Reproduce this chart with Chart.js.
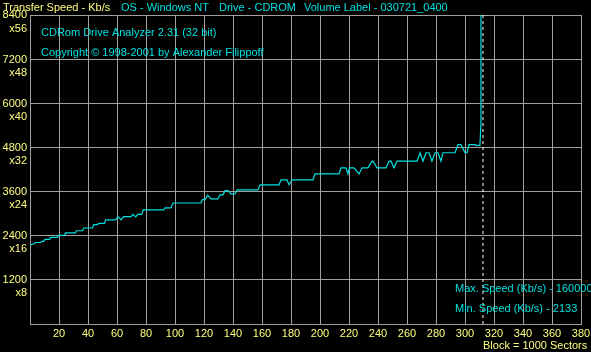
<!DOCTYPE html>
<html>
<head>
<meta charset="utf-8">
<script src="https://cdn.jsdelivr.net/npm/chart.js@4.4.1/dist/chart.umd.min.js"></script>
<style>
  html, body { margin: 0; padding: 0; background: #000; }
  #chartContainer { width: 591px; height: 352px; }
</style>
</head>
<body>
<div id="chartContainer"><canvas id="cdChart" width="591" height="352"></canvas></div>
<script>
// block number (x 1000 sectors) and transfer speed (Kb/s)
const blocks = [0, 2.5, 3.8, 7.4, 8, 9.6, 10.3, 13.6, 14.3, 19, 19.7, 23.8, 24.5, 31.4, 32, 36.3, 37, 43, 44, 46.6,
    47.3, 51.4, 52.2, 59, 60.7, 62.8, 64.5, 69.7, 71, 72.9, 74.3, 77, 78, 92.4, 93.2, 97.2, 98.6, 117.9, 118.8, 120.7,
    122.6, 124.8, 129.7, 131, 133.1, 134.5, 136.6, 138.6, 141.4, 142.8, 157.2, 158.6, 171.7, 173.1, 177.2, 178.6, 180.7, 195.2, 196.6, 213.1,
    214.5, 217.9, 219.3, 220.2, 223.4, 226.9, 229, 233.1, 235.9, 236.6, 239.3, 245.5, 247.6, 249, 251, 253.1, 266.9, 269, 271, 273.1,
    275.2, 277.2, 279.3, 281.4, 283.4, 284.8, 293.1, 295.2, 297.2, 300, 301.4, 302.8, 307, 307.5, 310.3, 311, 311.7];
const speeds = [2150, 2175, 2215, 2215, 2245, 2245, 2300, 2300, 2355, 2355, 2410, 2410, 2475, 2475, 2535, 2535, 2610, 2610, 2700, 2700,
    2735, 2735, 2830, 2830, 2920, 2830, 2920, 2920, 2980, 2910, 2980, 2980, 3100, 3100, 3155, 3155, 3290, 3290, 3380, 3380,
    3500, 3400, 3400, 3510, 3510, 3625, 3625, 3535, 3535, 3645, 3645, 3780, 3780, 3920, 3920, 3785, 3920, 3920, 4080, 4080,
    4245, 4245, 4080, 4245, 4245, 4080, 4245, 4245, 4425, 4425, 4245, 4245, 4425, 4425, 4245, 4425, 4425, 4655, 4425, 4655,
    4655, 4425, 4655, 4655, 4425, 4655, 4655, 4875, 4875, 4655, 4655, 4875, 4875, 4855, 4855, 5450, 1600000];

const speedTicks = [1200, 2400, 3600, 4800, 6000, 7200, 8400];
const speedFactors = ["x8", "x16", "x24", "x32", "x40", "x48", "x56"];
const blockTicks = [20, 40, 60, 80, 100, 120, 140, 160, 180, 200, 220, 240, 260, 280, 300, 320, 340, 360, 380];
const markerBlock = 312.4;

const YELLOW = "#ffff80";
const CYAN = "#00e0e0";
const GRID = "#a0a0a0";

Chart.defaults.font.family = "'Liberation Sans', Arial, sans-serif";
Chart.defaults.font.size = 11;

const textPlugin = {
    id: "analyzerText",
    afterDraw(chart) {
        const c = chart.ctx;
        c.save();
        c.font = "11px 'Liberation Sans', Arial, sans-serif";
        c.textBaseline = "middle";
        c.textAlign = "left";
        c.fillStyle = YELLOW;
        c.fillText("Transfer Speed - Kb/s", 3, 8);
        c.fillStyle = CYAN;
        c.fillText("OS - Windows NT", 121, 8);
        c.fillText("Drive - CDROM", 219, 8);
        c.fillText("Volume Label - 030721_0400", 304, 8);
        c.fillText("CDRom Drive Analyzer 2.31 (32 bit)", 41, 32.5);
        c.fillText("Copyright \u00a9 1998-2001 by Alexander Filippoff", 41, 52.5);
        c.fillText("Max. Speed (Kb/s) - " + Math.max(...speeds), 455, 288.5);
        c.fillText("Min. Speed (Kb/s) - 2133", 455, 308.5);
        c.fillStyle = YELLOW;
        c.fillText("Block = 1000 Sectors", 483, 346);
        c.restore();
    }
};

new Chart(document.getElementById("cdChart"), {
    type: "line",
    data: {
        datasets: [{
            data: blocks.map((b, i) => ({ x: b, y: speeds[i] })),
            borderColor: CYAN,
            borderWidth: 1.2,
            pointRadius: 0,
            tension: 0,
            fill: false
        }, {
            data: [{ x: markerBlock, y: 0 }, { x: markerBlock, y: 8400 }],
            borderColor: "#ffffff",
            borderWidth: 1,
            borderDash: [3, 3],
            pointRadius: 0,
            fill: false
        }]
    },
    options: {
        responsive: false,
        animation: false,
        layout: { padding: { top: 15, right: 10, left: 0, bottom: 0 } },
        plugins: {
            legend: { display: false },
            tooltip: { enabled: false }
        },
        scales: {
            x: {
                type: "linear",
                min: 0,
                max: 380,
                afterFit(scale) {
                    scale.height = 28;
                    scale.paddingLeft = 0;
                    scale.paddingRight = 0;
                },
                grid: { color: GRID, lineWidth: 1, drawTicks: false },
                border: { color: GRID },
                ticks: {
                    stepSize: 20,
                    autoSkip: false,
                    maxRotation: 0,
                    padding: 3,
                    color: YELLOW,
                    callback: v => blockTicks.includes(v) ? String(v) : ""
                }
            },
            y: {
                min: 0,
                max: 8400,
                afterFit(scale) {
                    scale.width = 30;
                    scale.paddingTop = 0;
                    scale.paddingBottom = 0;
                },
                grid: { color: GRID, lineWidth: 1, drawTicks: false },
                border: { color: GRID },
                ticks: {
                    stepSize: 600,
                    padding: 3,
                    labelOffset: 7,
                    color: YELLOW,
                    callback: v => {
                        const i = speedTicks.indexOf(v);
                        return i >= 0 ? [String(v), speedFactors[i]] : "";
                    }
                }
            }
        }
    },
    plugins: [textPlugin]
});
</script>
</body>
</html>
